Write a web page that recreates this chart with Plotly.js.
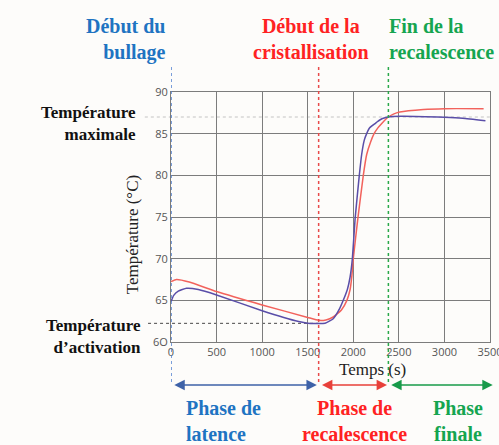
<!DOCTYPE html>
<html>
<head>
<meta charset="utf-8">
<script src="https://cdn.plot.ly/plotly-3.0.1.min.js"></script>
<style>html,body{margin:0;padding:0;background:#fdfcfa;}#chart{width:499px;height:445px;}</style>
</head>
<body>
<div id="chart"></div>
<script>
// Courbe rouge
const redTime = [0, 60, 200, 500, 1000, 1500, 1620, 1700, 1780, 1870, 1930, 1965, 1985, 2000, 2050, 2110, 2147, 2190, 2228, 2270, 2310, 2340, 2384, 2440, 2510, 2770, 3000, 3430];
const redTemp = [67.25, 67.5, 67.2, 66.05, 64.45, 62.95, 62.6, 62.65, 63.0, 63.85, 65.0, 66.3, 68.0, 70.0, 74.8, 80.0, 82.5, 84.0, 85.0, 85.7, 86.2, 86.55, 87.0, 87.35, 87.6, 87.9, 88.0, 88.0];
// Courbe violette
const purpleTime = [0, 30, 80, 170, 300, 500, 1000, 1400, 1500, 1690, 1780, 1850, 1890, 1935, 1965, 1990, 2020, 2066, 2092, 2120, 2147, 2180, 2238, 2260, 2300, 2330, 2384, 2510, 3000, 3200, 3450];
const purpleTemp = [64.85, 65.6, 66.1, 66.45, 66.3, 65.65, 63.75, 62.45, 62.25, 62.25, 62.8, 64.0, 65.0, 66.3, 67.8, 70.0, 74.8, 80.0, 82.5, 84.2, 85.0, 85.7, 86.2, 86.4, 86.7, 86.85, 87.0, 87.08, 86.96, 86.85, 86.56];
// Axes
const xTicks = [0, 500, 1000, 1500, 2000, 2500, 3000, 3500];
const yTicks = [60, 65, 70, 75, 80, 85, 90];
const yTickText = ["6O", "65", "70", "75", "80", "85", "90"];
// Repères
const tBullage = 0, tCristal = 1620, tFinRecal = 2385;
const tempMax = 87, tempActivation = 62.24;

const serif = "Liberation Serif";
const blue = "#1f74c2", red = "#ff2222", green = "#15a550";

const traces = [
  {x: redTime, y: redTemp, mode: 'lines', line: {color: '#f2625c', width: 1.5, shape: 'spline', smoothing: 0.4}, hoverinfo: 'skip'},
  {x: purpleTime, y: purpleTemp, mode: 'lines', line: {color: '#5a4ea8', width: 1.5, shape: 'spline', smoothing: 0.4}, hoverinfo: 'skip'}
];

const dotted = (x, color) => ({type: 'line', xref: 'x', yref: 'paper', x0: x, x1: x, y0: 1.1, y1: -0.172, line: {color: color, width: 1.5, dash: 'dot'}, layer: 'above'});

const shapes = [
  {type: 'line', xref: 'paper', yref: 'y', x0: -0.082, x1: 1, y0: tempMax, y1: tempMax, line: {color: '#b5b5b5', width: 0.8, dash: 'dot'}, layer: 'below'},
  {type: 'line', xref: 'paper', yref: 'y', x0: -0.072, x1: tCristal / 3500, y0: tempActivation, y1: tempActivation, line: {color: '#333', width: 0.9, dash: 'dot'}, layer: 'below'},
  dotted(tBullage, '#4f7fd0'),
  dotted(tCristal, '#e84a4a'),
  dotted(tFinRecal, '#2aa84a')
];

const arrow = (x0, x1, color) => ({xref: 'x', yref: 'paper', axref: 'x', ayref: 'paper', x: x1, y: -0.172, ax: x0, ay: -0.172, text: '', showarrow: true, arrowhead: 2, startarrowhead: 2, arrowside: 'end+start', arrowsize: 1.3, startarrowsize: 1.3, arrowwidth: 1.6, arrowcolor: color, standoff: 0, startstandoff: 0});

const txt = (text, x, y, color, size, xanchor, align) => ({xref: 'paper', yref: 'paper', x: x, y: y, text: text, showarrow: false, xanchor: xanchor, yanchor: 'middle', align: align, font: {family: serif, size: size, color: color}});

const annotations = [
  arrow(20, 1600, '#3e62a8'),
  arrow(1640, 2370, '#e8403a'),
  arrow(2400, 3530, '#189a4a'),
  txt('<b>Début du<br>bullage</b>', -0.009, 1.211, blue, 20, 'right', 'right'),
  txt('<b>Début de la<br>cristallisation</b>', 0.439, 1.211, red, 20, 'center', 'center'),
  txt('<b>Fin de la<br>recalescence</b>', 0.678, 1.211, green, 20, 'left', 'left'),
  txt('<b>Température<br>maximale</b>', -0.103, 0.875, '#111', 17, 'right', 'right'),
  txt('<b>Température<br>d’activation</b>', -0.088, 0.021, '#111', 17, 'right', 'right'),
  txt('<b>Phase de<br>latence</b>', 0.042, -0.317, blue, 20, 'left', 'left'),
  txt('<b>Phase de<br>recalescence</b>', 0.574, -0.317, red, 20, 'center', 'center'),
  txt('<b>Phase<br>finale</b>', 0.900, -0.317, green, 20, 'center', 'center'),
  txt('Temps (s)', 0.633, -0.108, '#222', 17, 'center', 'center'),
  Object.assign(txt('Température (°C)', -0.12, 0.43, '#222', 17, 'center', 'center'), {textangle: -90})
];

const axisCommon = {showgrid: true, gridcolor: '#7c7c7c', gridwidth: 1, showline: true, linecolor: '#7c7c7c', linewidth: 1, mirror: true, zeroline: false, ticks: '', ticklabeloverflow: 'allow', tickfont: {family: "Open Sans", size: 11, color: '#555'}};

const layout = {
  width: 499, height: 445,
  margin: {l: 171, r: 9, t: 92, b: 103},
  paper_bgcolor: '#fdfcfa', plot_bgcolor: '#fdfcfa',
  showlegend: false,
  xaxis: Object.assign({range: [0, 3500], tickvals: xTicks}, axisCommon),
  yaxis: Object.assign({range: [60, 90], tickvals: yTicks, ticktext: yTickText}, axisCommon),
  shapes: shapes,
  annotations: annotations
};

Plotly.newPlot('chart', traces, layout, {staticPlot: true, displayModeBar: false});
</script>
</body>
</html>
